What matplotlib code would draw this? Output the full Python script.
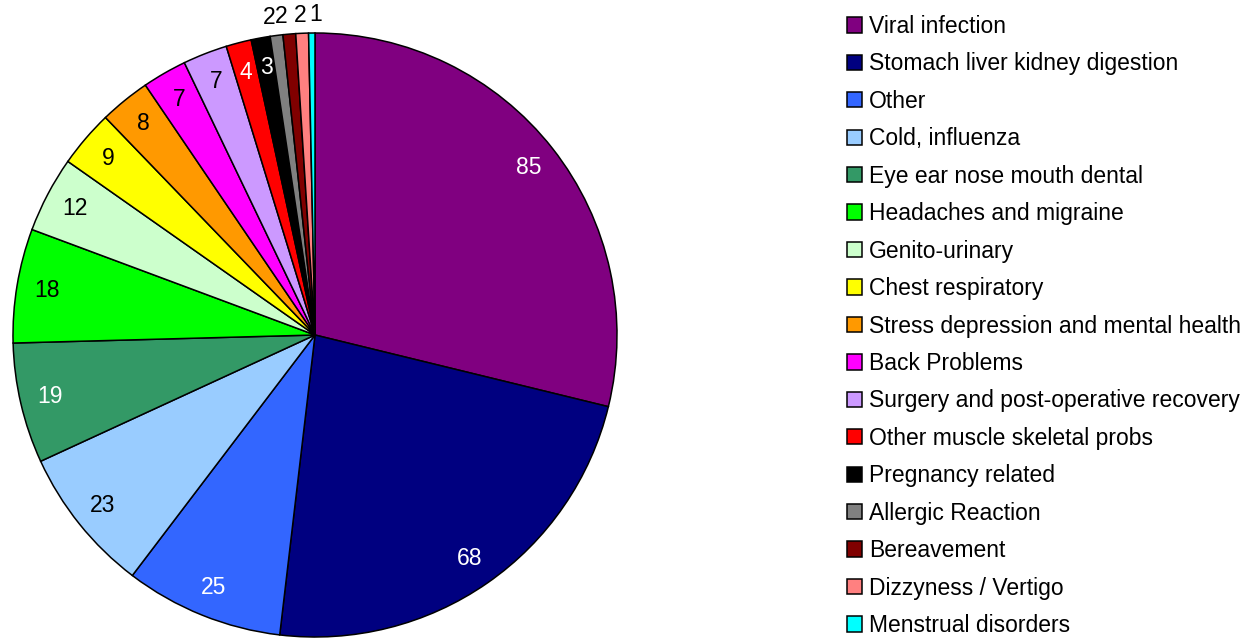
import numpy as np
import matplotlib.pyplot as plt

plt.rcParams['font.family'] = ['Liberation Sans', 'DejaVu Sans']

categories = ['Viral infection', 'Stomach liver kidney digestion', 'Other',
              'Cold, influenza', 'Eye ear nose mouth dental',
              'Headaches and migraine', 'Genito-urinary', 'Chest respiratory',
              'Stress depression and mental health', 'Back Problems',
              'Surgery and post-operative recovery',
              'Other muscle skeletal probs', 'Pregnancy related',
              'Allergic Reaction', 'Bereavement', 'Dizzyness / Vertigo',
              'Menstrual disorders']
values = [85, 68, 25, 23, 19, 18, 12, 9, 8, 7, 7, 4, 3, 2, 2, 2, 1]
colors = ['#800080', '#000080', '#3366FF', '#99CCFF', '#339966', '#00FF00',
          '#CCFFCC', '#FFFF00', '#FF9900', '#FF00FF', '#CC99FF', '#FF0000',
          '#000000', '#808080', '#800000', '#FF8080', '#00FFFF']
text_colors = ['white', 'white', 'white', 'black', 'white', 'black', 'black',
               'black', 'black', 'black', 'black', 'white', 'white',
               'black', 'black', 'black', 'black']

W, H = 1247, 638
fig = plt.figure(figsize=(W / 100, H / 100), dpi=100)
cx, cy, r = 315, 335, 302
ax = fig.add_axes([(cx - r) / W, (H - cy - r) / H, 2 * r / W, 2 * r / H])

wedges, _ = ax.pie(values, colors=colors, startangle=90, counterclock=False,
                   radius=1, wedgeprops=dict(edgecolor='black', linewidth=1.1))
ax.set_xlim(-1, 1)
ax.set_ylim(-1, 1)
ax.set_aspect('equal')
ax.axis('off')

# the tiny slices get their labels outside, nudged sideways so they don't collide
nudge = {13: -3.5, 14: -5, 15: -0.5, 16: 3}
for i, (w, v, tc) in enumerate(zip(wedges, values, text_colors)):
    mid = np.deg2rad((w.theta1 + w.theta2) / 2)
    if v >= 3:
        d = 0.9
    else:
        d = 1.06
        tc = 'black'
    ax.annotate(str(v), (d * np.cos(mid), d * np.sin(mid)),
                xytext=(nudge.get(i, 0), 0), textcoords='offset points',
                color=tc, ha='center', va='center', fontsize=16.5,
                annotation_clip=False)

fig.legend(wedges, categories, loc='upper left',
           bbox_to_anchor=(847 / W, 1 - 15 / H), frameon=False,
           fontsize=16.5, handlelength=0.65, handleheight=0.65,
           handletextpad=0.3, labelspacing=0.63, borderpad=0,
           borderaxespad=0)

fig.savefig('out.png', dpi=100)
